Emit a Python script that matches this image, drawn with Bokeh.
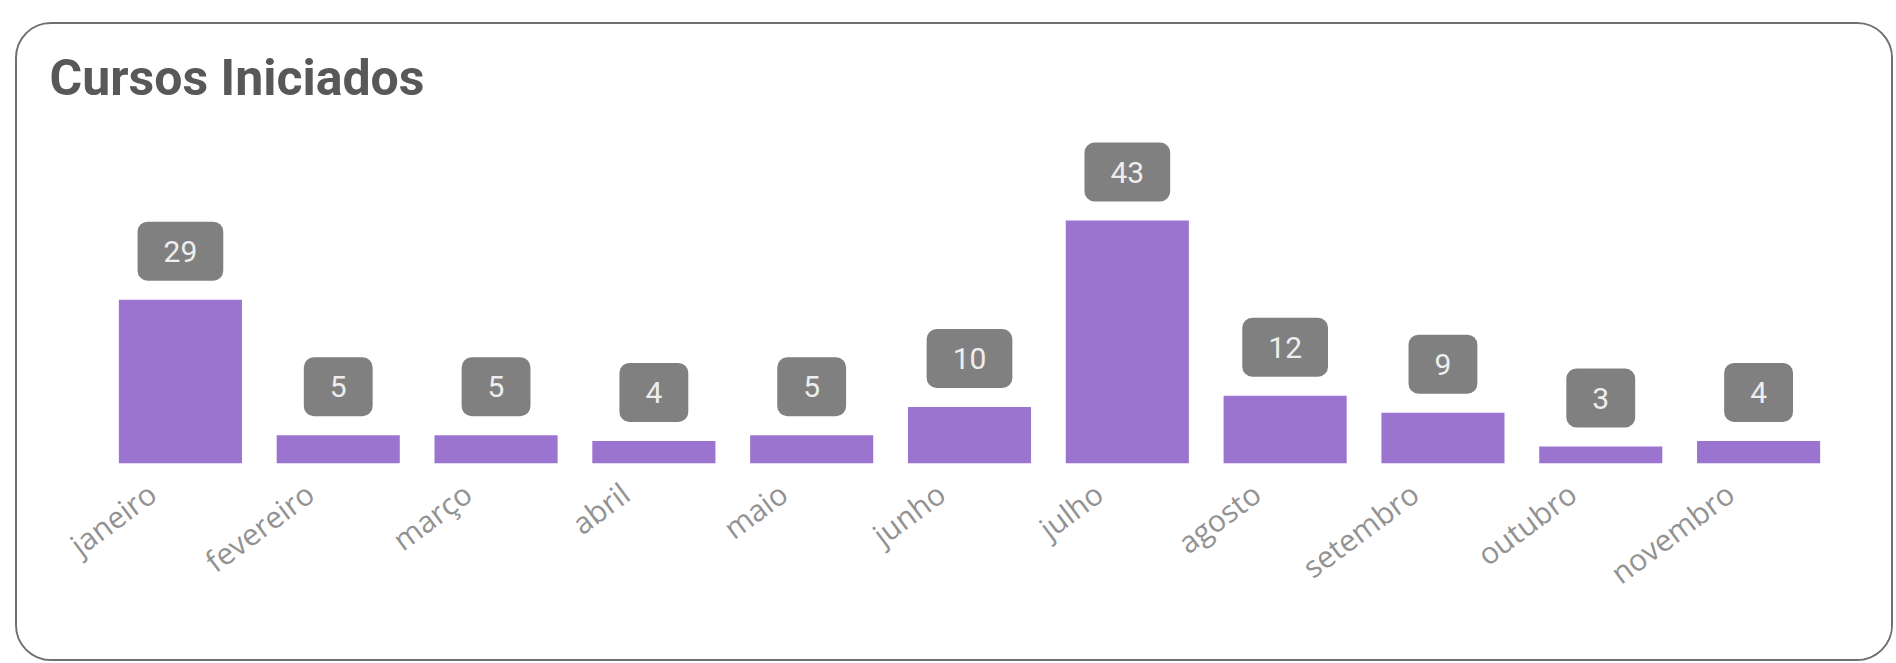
from bokeh.plotting import figure
from bokeh.models import ColumnDataSource, Range1d, FixedTicker
from bokeh.core.properties import value
from bokeh.embed import file_html
from bokeh.resources import INLINE

months = ["janeiro", "fevereiro", "março", "abril", "maio", "junho",
          "julho", "agosto", "setembro", "outubro", "novembro"]
counts = [29, 5, 5, 4, 5, 10, 43, 12, 9, 3, 4]
title_text = "Cursos Iniciados"

pos = [i + 0.5 for i in range(len(months))]          # category centres
src = ColumnDataSource(data=dict(x=pos, m=months, v=counts, t=[str(c) for c in counts]))

p = figure(x_range=Range1d(0, len(months)), y_range=Range1d(0, 60),
           width=1878, height=639, output_backend="svg", toolbar_location=None,
           min_border_left=84, min_border_right=58, min_border_bottom=200,
           min_border_top=100)
p.margin = (22, 3, 2, 15)
p.styles = {"border": "2px solid #707070", "border-radius": "36px",
            "overflow": "hidden", "box-sizing": "border-box", "background": "white"}

p.vbar(x="x", top="v", width=0.78, source=src, color="#9B74D0", line_color=None)

p.text(x="x", y="v", text="t", source=src, text_align="center", text_baseline="bottom",
       y_offset=-19, text_font=value("Roboto"), text_font_size="30px",
       text_color="#eeeeee", background_fill_color="#808080",
       border_radius=10, padding=dict(left=26, right=26, top=19, bottom=19))

p.title.text = title_text
p.title.text_font = "Roboto"
p.title.text_font_size = "50px"
p.title.text_font_style = "bold"
p.title.text_color = "#585858"
p.title.align = "left"
p.title.offset = -52
p.title.standoff = 36

p.yaxis.visible = False
p.xgrid.grid_line_color = None
p.ygrid.grid_line_color = None
p.outline_line_color = None
p.border_fill_color = "white"
p.background_fill_color = "white"

# category labels, anchored slightly left of each bar centre
shift = 0.18
ticks = [x - shift for x in pos]
ax = p.xaxis[0]
ax.ticker = FixedTicker(ticks=ticks)
ax.major_label_overrides = {t: m for t, m in zip(ticks, months)}
ax.axis_line_color = None
ax.major_tick_line_color = None
ax.minor_tick_line_color = None
ax.major_label_orientation = 0.64
ax.major_label_text_color = "#929292"
ax.major_label_text_font = "Open Sans"
ax.major_label_text_font_size = "30px"
ax.major_label_standoff = 20

open("out.html", "w").write(file_html(p, INLINE))
